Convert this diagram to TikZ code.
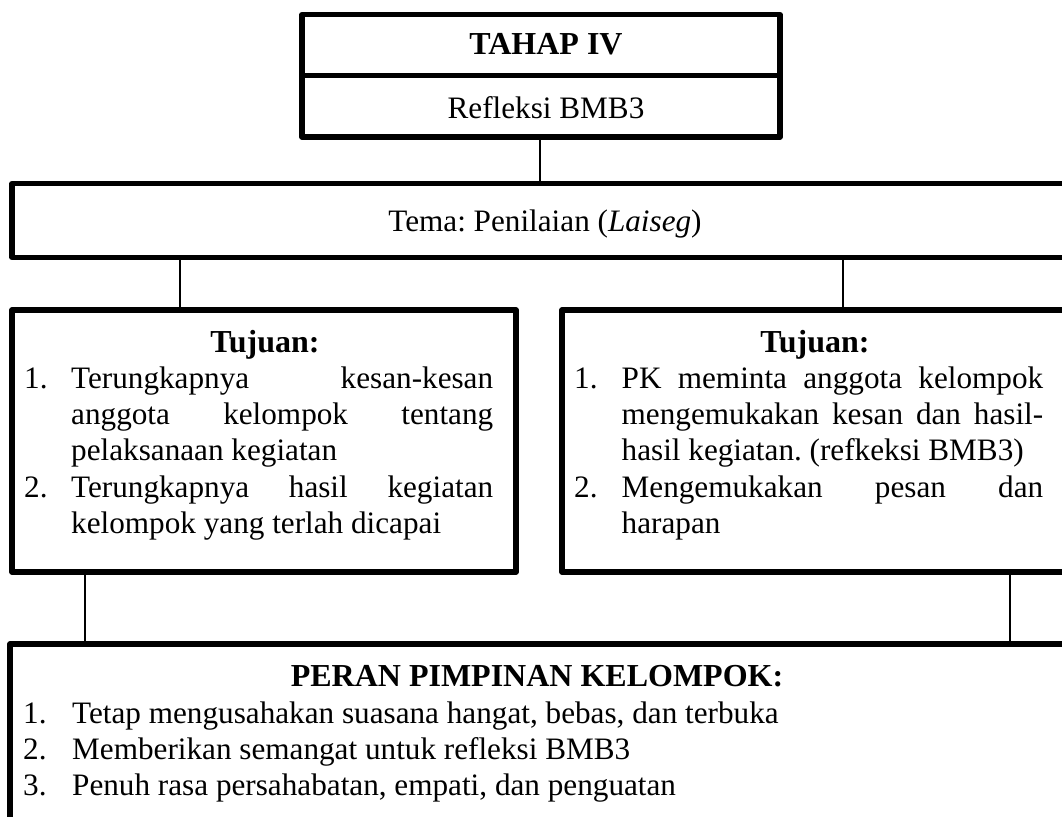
\documentclass[tikz,border=0pt]{standalone}
\usepackage{fontspec}
\setmainfont{Liberation Serif}
\frenchspacing
\newlength\numw
% numbered entry with a hanging indent: number in a fixed-width slot
\newcommand{\numitem}[1]{\par\hangindent=\numw\hangafter=1\noindent\makebox[\numw][l]{#1}}
% a top-aligned block of numbered entries
\newenvironment{numlist}[2]{\begin{minipage}[t]{#1}\setlength\numw{#2}%
  \tolerance=10000\hbadness=10000\exhyphenpenalty=10000\hyphenpenalty=10000\parindent=0pt}%
  {\end{minipage}}
\begin{document}
\begin{tikzpicture}[x=1pt,y=-1pt,
  box/.style={draw, line width=5.2pt, line join=round, inner sep=0pt, outer sep=0pt, anchor=north west},
  conn/.style={line width=1.6pt},
  txt/.style={inner sep=0pt, font=\fontsize{31.2}{36.4}\selectfont},
  head/.style={txt, font=\fontsize{32}{36.4}\selectfont\bfseries}
]
\useasboundingbox (0,0) rectangle (1062,816);
\fill[white] (0,0) rectangle (1062,816);
\clip (0,0) rectangle (1062,816);

% stage header
\node[box, minimum width=478pt, minimum height=61pt] (tahap) at (302,14.5) {};
\node[box, minimum width=478pt, minimum height=61.5pt] (refl) at (302,75.5) {};
\node[head, anchor=base] (t1) at (546,55) {TAHAP IV};
\node[txt, anchor=base] (t2) at (546,118) {Refleksi BMB3};

% theme
\node[box, minimum width=1058pt, minimum height=74pt] (theme) at (12,183.5) {};
\node[txt, anchor=base] (t3) at (545,231) {Tema: Penilaian (\textit{Laiseg})};

% goals, left
\node[box, minimum width=504pt, minimum height=262pt] (tl) at (12,310) {};
\node[head, anchor=base] (tlh) at (265,352) {Tujuan:};
\node[txt, anchor=base west] (tll) at (24,388) {\begin{numlist}{469pt}{47pt}%
  \numitem{1.}Terungkapnya kesan-kesan\linebreak anggota kelompok tentang\linebreak pelaksanaan kegiatan
  \numitem{2.}Terungkapnya hasil kegiatan\linebreak kelompok yang terlah dicapai
  \end{numlist}};

% goals, right
\node[box, minimum width=504pt, minimum height=262pt] (tr) at (562,310) {};
\node[head, anchor=base] (trh) at (815,352) {Tujuan:};
\node[txt, anchor=base west] (trl) at (574,388) {\begin{numlist}{469pt}{47.5pt}%
  \numitem{1.}PK meminta anggota kelompok\linebreak mengemukakan kesan dan hasil-\linebreak hasil kegiatan. (refkeksi BMB3)
  \numitem{2.}Mengemukakan pesan dan\linebreak harapan
  \end{numlist}};

% group leader role
\node[box, minimum width=1060pt, minimum height=190pt] (peran) at (10,644) {};
\node[head, anchor=base] (ph) at (537,686) {PERAN PIMPINAN KELOMPOK:};
\node[txt, anchor=base west] (pl) at (23,723) {\begin{numlist}{900pt}{49pt}\raggedright
  \numitem{1.}Tetap mengusahakan suasana hangat, bebas, dan terbuka
  \numitem{2.}Memberikan semangat untuk refleksi BMB3
  \numitem{3.}Penuh rasa persahabatan, empati, dan penguatan
  \end{numlist}};

% connector positions
\coordinate (xe) at (540,0);
\coordinate (xa) at (180,0);
\coordinate (xb) at (843,0);
\coordinate (xc) at (85,0);
\coordinate (xd) at (1010,0);

\draw[conn] (refl.south -| xe) -- (theme.north -| xe);
\draw[conn] (theme.south -| xa) -- (tl.north -| xa);
\draw[conn] (theme.south -| xb) -- (tr.north -| xb);
\draw[conn] (tl.south -| xc) -- (peran.north -| xc);
\draw[conn] (tr.south -| xd) -- (peran.north -| xd);
\end{tikzpicture}
\end{document}
